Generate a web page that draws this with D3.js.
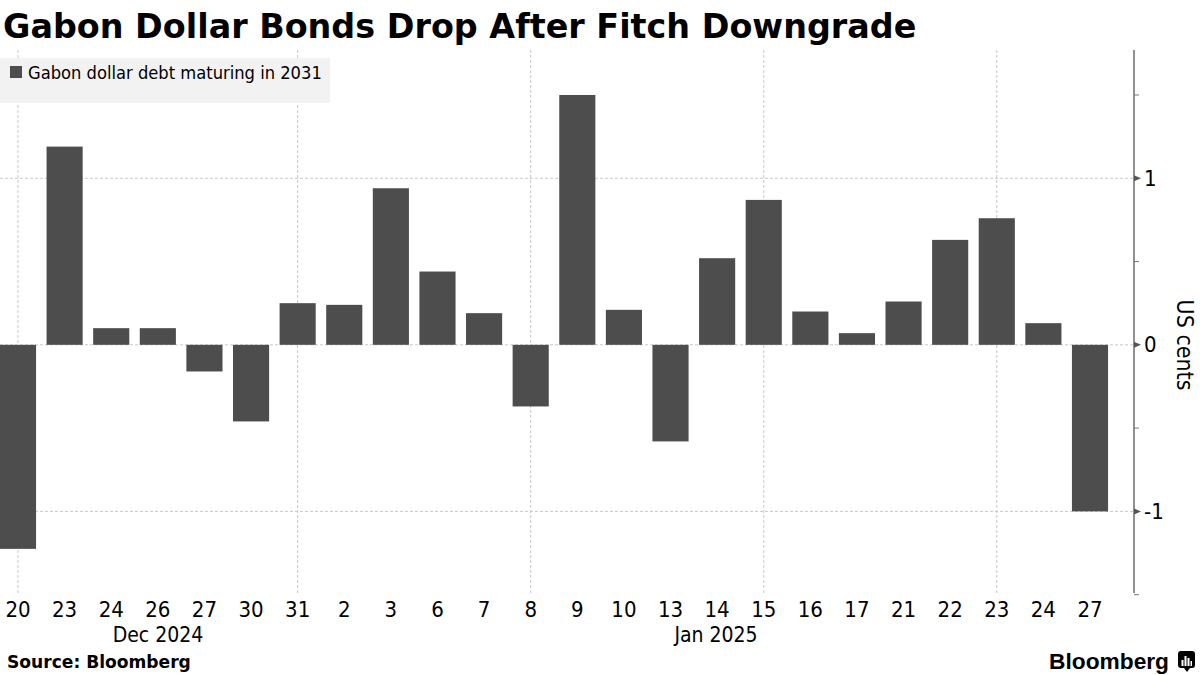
<!DOCTYPE html>
<html><head><meta charset="utf-8">
<script src="https://cdn.jsdelivr.net/npm/d3@7"></script>
<style>body{margin:0;background:#fff}svg{display:block}text{font-family:"DejaVu Sans Condensed","DejaVu Sans",sans-serif}</style>
</head><body><svg id="c" width="1200" height="675"></svg>
<script>
const days = ["20","23","24","26","27","30","31","2","3","6","7","8","9","10","13","14","15","16","17","21","22","23","24","27"];
const months = ["Dec","Dec","Dec","Dec","Dec","Dec","Dec","Jan","Jan","Jan","Jan","Jan","Jan","Jan","Jan","Jan","Jan","Jan","Jan","Jan","Jan","Jan","Jan","Jan"];
const values = [-1.225,1.19,0.10,0.10,-0.16,-0.46,0.25,0.24,0.94,0.44,0.19,-0.37,1.50,0.21,-0.58,0.52,0.87,0.20,0.07,0.26,0.63,0.76,0.13,-1.00];
const monthLabels = [{label:"Dec 2024", x:158},{label:"Jan 2025", x:716}];
const yTicks = [-1,0,1];
const yMinor = [-1.5,-0.5,0.5,1.5];
const gridEvery = [0,6,11,16,21];

const svg = d3.select("#c");
const keys = days.map((d,i)=>i);
const x = d3.scaleBand().domain(keys).range([-5.3,1113.3]).paddingInner(0.225).paddingOuter(0.1125);
const y = d3.scaleLinear().domain([-1.49,1.77]).range([593,50]);
const axisX = 1134;

function fit(t, w){ const n=t.node(); const l=n.getComputedTextLength(); const fs=parseFloat(t.attr("font-size")); t.attr("font-size", fs*w/l); }

// title
const title = svg.append("text").attr("x",3).attr("y",38).attr("font-size",33).attr("font-weight","bold").attr("fill","#000")
  .style("font-family","'DejaVu Sans',sans-serif").text("Gabon Dollar Bonds Drop After Fitch Downgrade");
fit(title, 914);

// grid
const g = svg.append("g");
g.selectAll(".hg").data(yTicks).join("line").attr("x1",0).attr("x2",axisX).attr("y1",d=>y(d)).attr("y2",d=>y(d))
  .attr("stroke","#c8c8c8").attr("stroke-dasharray","3,2").attr("stroke-width",1);
g.selectAll(".vg").data(gridEvery).join("line").attr("x1",d=>x(d)+x.bandwidth()/2).attr("x2",d=>x(d)+x.bandwidth()/2)
  .attr("y1",50).attr("y2",593).attr("stroke","#c8c8c8").attr("stroke-dasharray","3,2").attr("stroke-width",1);

// legend
svg.append("rect").attr("x",0).attr("y",58).attr("width",330).attr("height",45).attr("fill","#f2f2f2");
svg.append("rect").attr("x",10).attr("y",66).attr("width",12).attr("height",12).attr("fill","#4d4d4d");
const lt = svg.append("text").attr("x",28).attr("y",79).attr("font-size",17).attr("fill","#000").text("Gabon dollar debt maturing in 2031");
fit(lt, 294);

// bars
svg.append("g").selectAll("rect").data(values).join("rect")
  .attr("x",(d,i)=>x(i)).attr("width",x.bandwidth())
  .attr("y",d=>y(Math.max(0,d))).attr("height",d=>Math.abs(y(d)-y(0)))
  .attr("fill","#4d4d4d");

// y axis
const ax = svg.append("g");
ax.append("line").attr("x1",axisX).attr("x2",axisX).attr("y1",50).attr("y2",593).attr("stroke","#555").attr("stroke-width",1.3);
ax.selectAll(".mn").data(yMinor).join("line").attr("x1",axisX).attr("x2",axisX+5).attr("y1",d=>y(d)).attr("y2",d=>y(d)).attr("stroke","#777");
ax.selectAll(".mj").data(yTicks).join("path").attr("d",d=>`M${axisX},${y(d)-3}L${axisX+7},${y(d)}L${axisX},${y(d)+3}Z`).attr("fill","#555");
ax.selectAll(".tl").data(yTicks).join("text").attr("x",axisX+10).attr("y",d=>y(d)+7.5).attr("font-size",22).attr("fill","#000")
  .text(d=>d3.format("d")(d).replace("−","-"));
svg.append("text").attr("transform",`translate(1177,345) rotate(90)`).attr("text-anchor","middle").attr("font-size",23).attr("fill","#000").text("US cents");

// x labels
svg.append("g").selectAll("text").data(days).join("text").attr("x",(d,i)=>x(i)+x.bandwidth()/2).attr("y",617)
  .attr("text-anchor","middle").attr("font-size",22).attr("fill","#000").text(d=>d);
svg.append("g").selectAll("text").data(monthLabels).join("text").attr("x",d=>d.x).attr("y",642)
  .attr("text-anchor","middle").attr("font-size",21).attr("fill","#000").text(d=>d.label);

// footer
const src = svg.append("text").attr("x",7).attr("y",668).attr("font-size",16).attr("font-weight","bold").attr("fill","#000")
  .style("font-family","'DejaVu Sans',sans-serif").text("Source: Bloomberg");
fit(src, 184);
const bb = svg.append("text").attr("x",1169).attr("y",669).attr("text-anchor","end").attr("font-size",22).attr("font-weight","bold").attr("fill","#000")
  .style("font-family","'Liberation Sans',Arial,sans-serif").text("Bloomberg");
fit(bb, 120);
const icon = svg.append("g").attr("transform","translate(1178,651)");
icon.append("rect").attr("width",17).attr("height",17).attr("rx",3).attr("fill","#000");
icon.append("path").attr("d","M6,17 L9,21 L12,17Z").attr("fill","#000");
[[4,9,2,6],[7,5,2,10],[10,7,2,8],[13,10,1.5,5]].forEach(r=>icon.append("rect").attr("x",r[0]-0.5).attr("y",r[1]).attr("width",r[2]).attr("height",r[3]).attr("fill","#fff"));
</script></body></html>
